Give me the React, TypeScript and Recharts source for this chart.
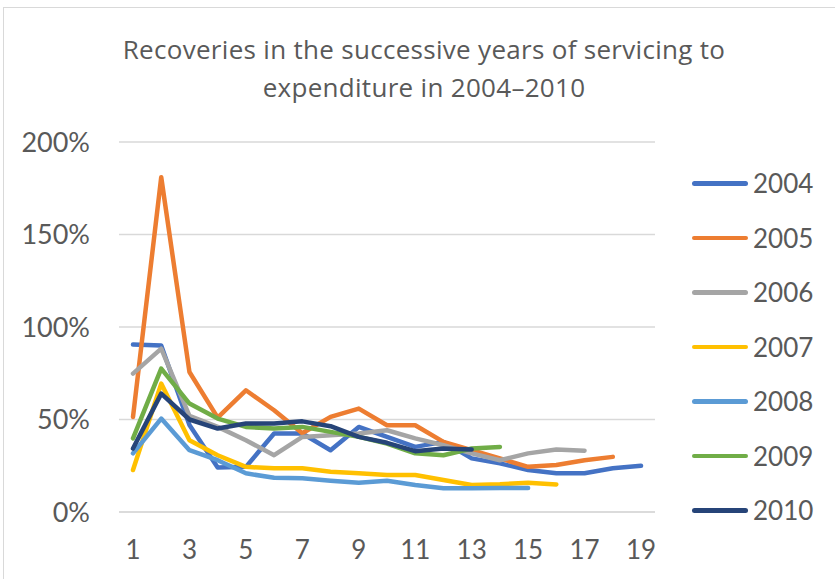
import { LineChart, Line, XAxis, YAxis, CartesianGrid } from 'recharts';

const years = [1, 2, 3, 4, 5, 6, 7, 8, 9, 10, 11, 12, 13, 14, 15, 16, 17, 18, 19];

const s2004 = [90.5, 90, 47, 24, 24.4, 42.4, 42.4, 33.4, 46, 40.6, 35.2, 37.9, 29, 26.3, 22.7, 20.9, 20.9, 23.6, 25];
const s2005 = [51.4, 181, 75.7, 51, 65.8, 55, 42.6, 51.4, 55.9, 46.9, 46.9, 37.9, 33.4, 29, 24.4, 25.4, 28, 29.8, null];
const s2006 = [74.8, 88.3, 52, 46, 38.8, 30.7, 40.6, 41.5, 42.4, 44.2, 39.8, 36.1, 31.7, 28, 31.7, 33.8, 33.1, null, null];
const s2007 = [22.7, 69.4, 38.8, 30.7, 24.4, 23.6, 23.6, 21.7, 20.9, 20, 20, 17.3, 14.6, 15, 15.8, 14.9, null, null, null];
const s2008 = [31.7, 50.5, 33.4, 28, 20.9, 18.5, 18.2, 16.9, 15.8, 16.9, 14.6, 12.8, 12.8, 13, 13, null, null, null, null];
const s2009 = [39.8, 77.5, 58.6, 50.5, 46, 45.1, 46, 43.3, 40.6, 37, 31.7, 30.7, 34.3, 35.2, null, null, null, null, null];
const s2010 = [34.3, 64, 50, 45.1, 47.8, 47.8, 49, 46.4, 40.6, 37.4, 32.9, 34.3, 33.8, null, null, null, null, null, null];

const yTicks = [0, 50, 100, 150, 200];

const series = [
  { key: '2004', values: s2004, color: '#4472C4' },
  { key: '2005', values: s2005, color: '#ED7D31' },
  { key: '2006', values: s2006, color: '#A5A5A5' },
  { key: '2007', values: s2007, color: '#FFC000' },
  { key: '2008', values: s2008, color: '#5B9BD5' },
  { key: '2009', values: s2009, color: '#70AD47' },
  { key: '2010', values: s2010, color: '#264478' },
];

const data = years.map((y, i) => {
  const row: Record<string, number | null> = { year: y };
  series.forEach((s) => {
    row[s.key] = s.values[i];
  });
  return row;
});

const font = 'Lato, "Open Sans", sans-serif';
const textColor = '#595959';

export default function App() {
  return (
    <div style={{ position: 'fixed', left: 0, top: 0, width: 835, height: 579, background: '#fff' }}>
      <div
        style={{
          position: 'absolute',
          left: 3,
          top: 7,
          width: 840,
          height: 580,
          borderLeft: '1px solid #D9D9D9',
          borderTop: '1px solid #D9D9D9',
        }}
      />
      <div
        style={{
          position: 'absolute',
          left: 0,
          top: 30,
          width: 848,
          textAlign: 'center',
          fontFamily: '"Open Sans", sans-serif',
          fontSize: 26,
          letterSpacing: 0.3,
          lineHeight: '38px',
          color: textColor,
        }}
      >
        Recoveries in the successive years of servicing to
        <br />
        expenditure in 2004–2010
      </div>
      <LineChart
        width={835}
        height={579}
        data={data}
        margin={{ top: 142, right: 180, bottom: 37, left: 0 }}
        style={{ position: 'absolute', left: 0, top: 0 }}
      >
        <CartesianGrid vertical={false} stroke="#D9D9D9" strokeWidth={1.3} />
        <XAxis
          dataKey="year"
          interval={1}
          padding={{ left: 14, right: 14 }}
          tickLine={false}
          tickSize={0}
          tickMargin={29}
          height={30}
          axisLine={{ stroke: '#D9D9D9', strokeWidth: 1.3 }}
          tick={{ fontSize: 26, fill: textColor, fontFamily: font }}
        />
        <YAxis
          domain={[0, 200]}
          ticks={yTicks}
          width={119}
          axisLine={false}
          tickLine={false}
          tickSize={0}
          tickMargin={29}
          tickFormatter={(v) => `${v}%`}
          tick={{ fontSize: 27, fill: textColor, fontFamily: font }}
        />
        {series.map((s) => (
          <Line
            key={s.key}
            type="linear"
            dataKey={s.key}
            stroke={s.color}
            strokeWidth={4.5}
            strokeLinecap="round"
            strokeLinejoin="round"
            dot={false}
            activeDot={false}
            isAnimationActive={false}
          />
        ))}
      </LineChart>
      <div style={{ position: 'absolute', left: 692, top: 156, fontFamily: font }}>
        {series.map((s) => (
          <div key={s.key} style={{ display: 'flex', alignItems: 'center', height: 54.5 }}>
            <div style={{ width: 56, height: 4.5, borderRadius: 3, background: s.color, marginRight: 5 }} />
            <span style={{ fontSize: 26, color: textColor }}>{s.key}</span>
          </div>
        ))}
      </div>
    </div>
  );
}
